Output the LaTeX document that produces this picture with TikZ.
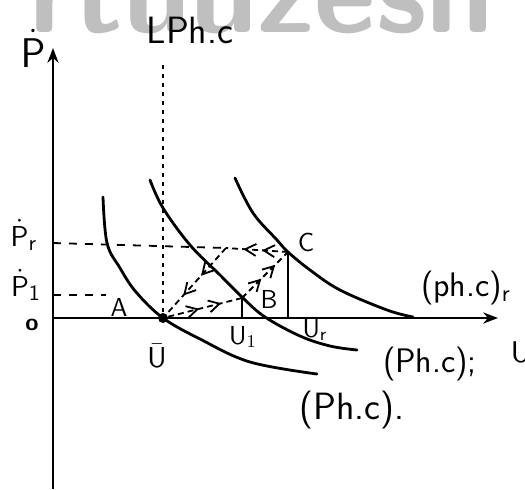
\documentclass[tikz,border=0pt]{standalone}
\usepackage{amsmath}
\usepackage{xcolor}
\usepackage{tikz}
\usetikzlibrary{arrows.meta,decorations.markings}

\begin{document}
\begin{tikzpicture}[
    >={Stealth[length=2.6mm]},
    x=0.5pt, y=-0.5pt,
    hand/.style={font=\sffamily\fontsize{13}{13}\selectfont,inner sep=1pt},
    bighand/.style={font=\sffamily\fontsize{17}{17}\selectfont,inner sep=1pt},
    axisline/.style={->,line width=1.3pt},
    pcurve/.style={line width=1.4pt,line cap=round},
    guide/.style={line width=0.9pt,dash pattern=on 4pt off 4pt},
    dotline/.style={line width=1pt,dash pattern=on 2pt off 2.5pt},
    drop/.style={line width=1pt},
    ptdot/.style={circle,fill,inner sep=0pt,minimum size=5pt},
    flow/.style={line width=0.9pt,dash pattern=on 3pt off 2pt,
      postaction={solid,decorate},
      decoration={markings,
        mark=at position 0.42 with {\arrow{Straight Barb[length=1.9mm,width=2.1mm]}},
        mark=at position 0.72 with {\arrow{Straight Barb[length=1.9mm,width=2.1mm]}}}},
  ]
  \useasboundingbox (0,0) rectangle (525,489);

  % --- watermark ---
  \node[anchor=base,text=black!25,inner sep=0pt,
        font=\sffamily\bfseries\fontsize{60}{60}\selectfont] (wm) at (262,32) {rtuuzesh};

  % --- axes ---
  \coordinate (o)    at (53,318);
  \coordinate (ybot) at (53,489);
  \coordinate (ytip) at (53,48);
  \coordinate (xtip) at (498,318);
  \draw[axisline] (ybot) -- (ytip);
  \draw[axisline] (o) -- (xtip);

  % --- key points ---
  \node[ptdot] (ubar) at (163,318) {};
  \coordinate (ltop) at (163,65);
  \coordinate (b1)   at (242,298);
  \coordinate (u1)   at (242,318);
  \coordinate (c)    at (288,252);
  \coordinate (cr)   at (288,318);
  \coordinate (vr)   at (226,248);
  \coordinate (pry)  at (53,243);
  \coordinate (p1y)  at (53,295);
  \coordinate (p1e)  at (106,295);

  % --- Phillips curves ---
  \draw[pcurve] plot[smooth,tension=0.6] coordinates
    {(103,197) (107,243) (120,268) (136,292) (163,318) (200,339) (250,362) (317,374)};
  \draw[pcurve] plot[smooth,tension=0.6] coordinates
    {(150,180) (163,208) (190,245) (220,275) (243,298) (265,317) (300,336) (330,346) (357,350)};
  \draw[pcurve] plot[smooth,tension=0.6] coordinates
    {(235,178) (253,213) (277,240) (288,252) (310,270) (340,290) (387,310) (413,317)};

  % --- long-run line and guides ---
  \draw[dotline] (ltop) -- (ubar);
  \draw[guide] (pry) -- (vr);
  \draw[guide] (p1y) -- (p1e);
  \draw[drop] (c) -- (cr);
  \draw[drop] (b1) -- (u1);

  % --- adjustment path ---
  \draw[flow] (ubar) -- (b1);
  \draw[flow] (b1) -- (c);
  \draw[flow] (c) -- (vr);
  \draw[flow] (vr) -- (ubar);

  % --- labels ---
  \node[hand,font=\sffamily\fontsize{21}{21}\selectfont] (plab) at (33,48) {$\dot{\mathsf P}$};
  \node[bighand,font=\sffamily\fontsize{19}{19}\selectfont] (lphc) at (190,30) {LPh.c};
  \node[hand,font=\sffamily\fontsize{15}{15}\selectfont] (prlab) at (24,235) {$\dot{\mathsf P}_{\mathsf r}$};
  \node[hand,font=\sffamily\fontsize{15}{15}\selectfont] (p1lab) at (26,285) {$\dot{\mathsf P}_{\mathsf 1}$};
  \node[hand,font=\sffamily\bfseries\fontsize{12}{12}\selectfont] (zlab) at (32,325) {o};
  \node[hand] (alab) at (119,307) {A};
  \node[hand] (blab) at (269,299) {B};
  \node[hand] (clab) at (306,242) {C};
  \node[hand,font=\sffamily\fontsize{15}{15}\selectfont] (ubarlab) at (157,356) {$\bar{\mathsf U}$};
  \node[hand] (u1lab) at (243,337) {U$_1$};
  \node[hand] (urlab) at (315,330) {U$_\text{r}$};
  \node[hand,font=\sffamily\fontsize{15}{15}\selectfont] (ulab) at (521,352) {U};
  \node[bighand] (phr) at (466,288) {(ph.c)$_\text{r}$};
  \node[bighand] (ph1) at (430,364) {(Ph.c);};
  \node[bighand,font=\sffamily\fontsize{19}{19}\selectfont] (ph0) at (352,410) {(Ph.c).};

\end{tikzpicture}
\end{document}
